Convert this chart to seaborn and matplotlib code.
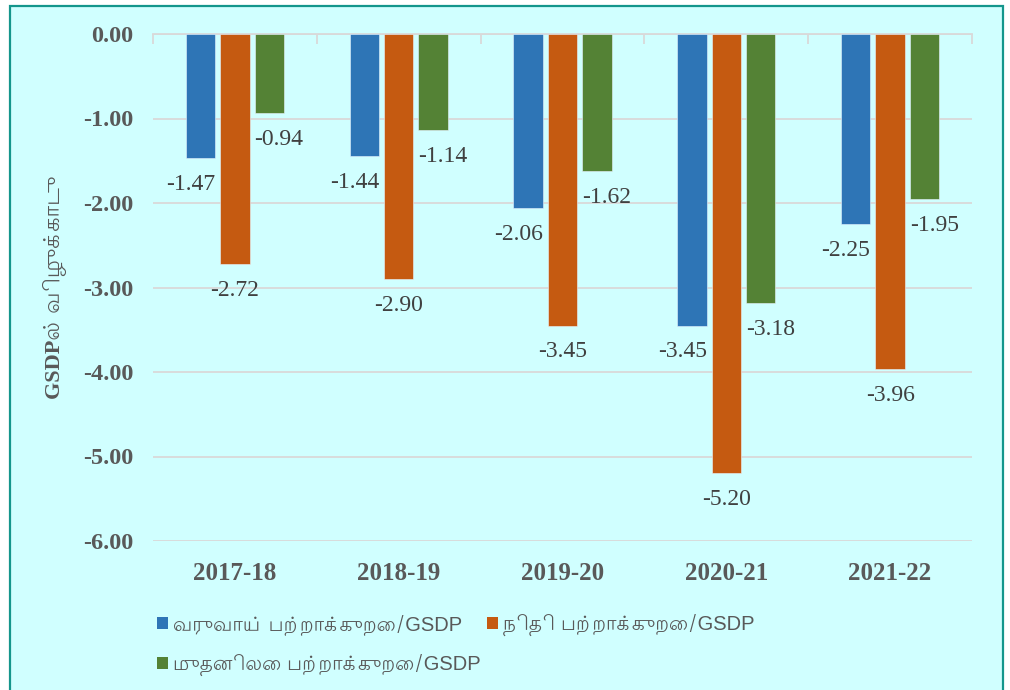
import matplotlib
matplotlib.use("Agg")
import matplotlib.pyplot as plt
from matplotlib import font_manager
from matplotlib.ft2font import FT2Font
from matplotlib.patches import Rectangle, Patch
import seaborn as sns
import pandas as pd

# ---------------- data ----------------
years = ["2017-18", "2018-19", "2019-20", "2020-21", "2021-22"]
series_names = ["வருவாய் பற்றாக்குறை/GSDP",
                "நிதி பற்றாக்குறை/GSDP",
                "முதனிலை பற்றாக்குறை/GSDP"]
revenue_deficit = [-1.47, -1.44, -2.06, -3.45, -2.25]
fiscal_deficit = [-2.72, -2.90, -3.45, -5.20, -3.96]
primary_deficit = [-0.94, -1.14, -1.62, -3.18, -1.95]
y_ticks = [0, -1, -2, -3, -4, -5, -6]
y_label = "GSDPல் விழுக்காடு"

colors = ["#2E75B6", "#C55A11", "#548235"]
bg = "#D0FFFF"
border = "#14968C"
txt_gray = "#595959"

# ---------------- find a Tamil-capable font ----------------
tamil_font = None
preferred = []
for path in font_manager.findSystemFonts():
    try:
        f = FT2Font(path)
        cmap = f.get_charmap()
        if 0x0BB5 in cmap and 0x0BCD in cmap:
            name = font_manager.FontProperties(fname=path).get_name()
            preferred.append(name)
    except Exception:
        pass
if preferred:
    sans = [p for p in preferred if "Sans" in p or "Lohit" in p]
    tamil_font = (sans or preferred)[0]

sns.set_theme(style="white")
serif_fam = ["Liberation Serif", "DejaVu Serif"]
sans_fam = ["Liberation Sans", "DejaVu Sans"]
if tamil_font:
    serif_fam = ["Liberation Serif", tamil_font, "DejaVu Serif"]
    sans_fam = [tamil_font, "Liberation Sans", "DejaVu Sans"]
plt.rcParams["font.family"] = serif_fam

df = pd.DataFrame({
    "year": years * 3,
    "value": revenue_deficit + fiscal_deficit + primary_deficit,
    "series": [series_names[0]] * 5 + [series_names[1]] * 5 + [series_names[2]] * 5,
})

fig = plt.figure(figsize=(10.1, 6.9), dpi=100, facecolor="white")
fig.patches.append(Rectangle((9.5 / 1010, -0.05), (1002.5 - 9.5) / 1010, 1.05 - 5.5 / 690,
                             transform=fig.transFigure, facecolor=bg, edgecolor=border,
                             linewidth=1.6, zorder=-10))
ax = fig.add_axes([153 / 1010, 1 - 541 / 690, (972 - 153) / 1010, (541 - 34) / 690])
ax.set_facecolor("none")

sns.barplot(data=df, x="year", y="value", hue="series", hue_order=series_names,
            palette=colors, saturation=1, width=0.63, gap=0.14, ax=ax, legend=False,
            edgecolor="#E8F4FF", linewidth=0.4, zorder=3)

ax.set_ylim(-6, 0)
ax.set_xlim(-0.5, len(years) - 0.5)
ax.set_yticks(y_ticks)
ax.set_yticklabels([f"{v:.2f}" for v in y_ticks], fontsize=17.5, fontweight="bold",
                   color=txt_gray, family=["Liberation Serif"])
ax.tick_params(axis="y", length=0, pad=14)
ax.yaxis.grid(True, color="#D9D9D9", linewidth=1.3, zorder=0)
ax.set_axisbelow(True)

ax.set_xticks(range(len(years)))
ax.set_xticklabels(years, fontsize=18, fontweight="bold", color=txt_gray,
                   family=["Liberation Serif"])
ax.tick_params(axis="x", which="major", bottom=False, top=False, length=0, pad=15)
ax.set_xticks([i - 0.5 for i in range(len(years) + 1)], minor=True)
ax.tick_params(axis="x", which="minor", top=True, bottom=False, direction="in",
               length=7, width=1.3, color="#D9D9D9")
ax.set_xlabel("")

for s in ["left", "right", "bottom"]:
    ax.spines[s].set_visible(False)
ax.spines["top"].set_color("#D9D9D9")
ax.spines["top"].set_linewidth(1.3)

ax.set_ylabel(y_label, fontsize=16, fontweight="bold", color=txt_gray,
              family=serif_fam, labelpad=12)

# data labels
offsets_x = [-7, 0, 7]
for ci, cont in enumerate(ax.containers):
    for bar, val in zip(cont, [revenue_deficit, fiscal_deficit, primary_deficit][ci]):
        x = bar.get_x() + bar.get_width() / 2
        y_end = min(bar.get_y(), bar.get_y() + bar.get_height())
        ax.annotate(f"{val:.2f}", (x, y_end), xytext=(offsets_x[ci], -19),
                    textcoords="offset points", ha="center", va="center",
                    fontsize=17, color="#404040", family=["Liberation Serif"])

handles = [Patch(facecolor=colors[i], edgecolor="none") for i in [0, 2, 1]]
labels = [series_names[i] for i in [0, 2, 1]]
leg = fig.legend(handles, labels, loc="upper left", bbox_to_anchor=(139 / 1010, 1 - 596 / 690),
                 ncol=2, frameon=False, handlelength=0.55, handleheight=0.55,
                 handletextpad=0.25, columnspacing=0.3, labelspacing=0.95,
                 prop={"family": sans_fam, "size": 14.5})
for t in leg.get_texts():
    t.set_color(txt_gray)

fig.savefig("out.png", dpi=100, facecolor="white")
